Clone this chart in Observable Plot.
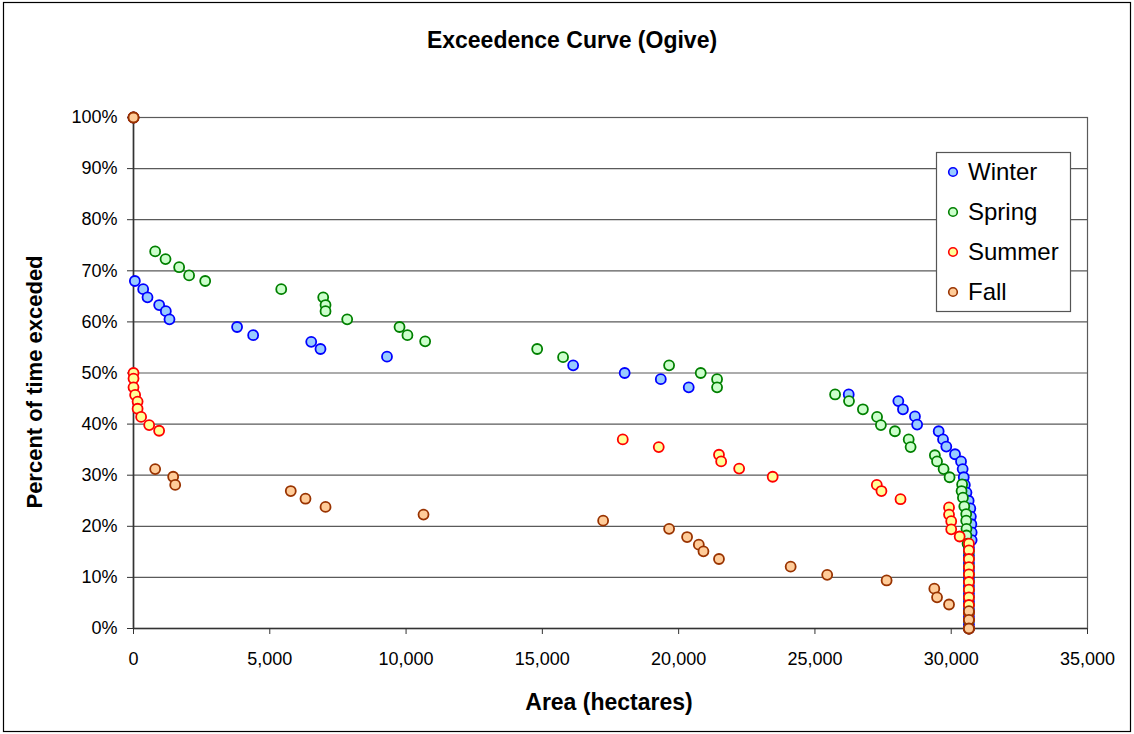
<!DOCTYPE html>
<html><head><meta charset="utf-8">
<script src="https://cdn.jsdelivr.net/npm/d3@7"></script>
<script src="https://cdn.jsdelivr.net/npm/@observablehq/plot@0.6"></script>
<style>html,body{margin:0;padding:0;background:#fff;overflow:hidden}#chart svg{display:block}</style>
</head><body><div id="chart"></div>
<script>
const chartTitle = "Exceedence Curve (Ogive)";
const xTitle = "Area (hectares)";
const yTitle = "Percent of time exceded";
const seriesNames = ["Winter", "Spring", "Summer", "Fall"];
const xTicks = [0, 5000, 10000, 15000, 20000, 25000, 30000, 35000];
const yTicks = [0, 10, 20, 30, 40, 50, 60, 70, 80, 90, 100];

const winterArea = [0, 50, 355, 514, 942, 1186, 1320, 3800, 4390, 6520, 6860, 9300, 16130, 18020, 19345, 20370, 26240, 28060, 28230, 28670, 28750, 29540, 29700, 29820, 30140, 30360, 30420, 30460, 30500, 30560, 30640, 30700, 30720, 30740, 30750, 30750, 30650, 30650, 30650, 30650, 30650, 30650, 30650, 30650, 30650, 30650, 30650, 30650];
const winterPct  = [100, 68.0, 66.4, 64.8, 63.3, 62.1, 60.5, 59.0, 57.4, 56.1, 54.7, 53.2, 51.5, 50.0, 48.8, 47.2, 45.8, 44.5, 42.9, 41.5, 39.9, 38.6, 37.0, 35.6, 34.1, 32.7, 31.2, 29.6, 28.1, 26.6, 25.0, 23.5, 21.9, 20.4, 18.8, 17.3, 15.8, 14.3, 12.8, 11.3, 9.8, 8.3, 6.8, 5.3, 3.8, 2.3, 0.8, 0];

const springArea = [0, 795, 1175, 1675, 2040, 2630, 5420, 6960, 7045, 7045, 7840, 9760, 10050, 10700, 14810, 15760, 19650, 20810, 21410, 21410, 25740, 26250, 26760, 27280, 27420, 27935, 28440, 28510, 29400, 29480, 29720, 29940, 30400, 30380, 30430, 30480, 30550, 30550, 30560, 30560, 30600, 30650, 30650, 30650, 30650, 30650, 30650, 30650, 30650, 30650, 30650, 30650];
const springPct  = [100, 73.8, 72.3, 70.7, 69.1, 68.0, 66.4, 64.8, 63.3, 62.1, 60.5, 59.0, 57.4, 56.2, 54.7, 53.1, 51.5, 50.0, 48.8, 47.2, 45.8, 44.5, 42.9, 41.4, 39.8, 38.6, 37.0, 35.5, 33.9, 32.7, 31.2, 29.6, 28.2, 26.9, 25.6, 23.9, 22.4, 21.1, 19.5, 18.2, 16.6, 15.1, 13.6, 12.1, 10.6, 9.1, 7.6, 6.1, 4.6, 3.1, 1.6, 0];

const summerArea = [0, 0, 0, 0, 60, 150, 150, 280, 575, 940, 17950, 19270, 21480, 21560, 22220, 23450, 27270, 27440, 28140, 29920, 29920, 30000, 30000, 30310, 30650, 30650, 30650, 30650, 30650, 30650, 30650, 30650, 30650, 30650, 30650, 30650];
const summerPct  = [100, 50.0, 48.9, 47.2, 45.7, 44.4, 43.0, 41.4, 39.8, 38.7, 37.0, 35.5, 34.0, 32.7, 31.3, 29.7, 28.1, 26.9, 25.3, 23.7, 22.3, 21.0, 19.4, 18.0, 16.6, 15.3, 13.6, 12.0, 10.6, 9.1, 7.6, 6.1, 4.6, 3.2, 1.7, 0];

const fallArea = [0, 795, 1455, 1530, 5770, 6310, 7045, 10640, 17230, 19650, 20310, 20740, 20910, 21480, 24110, 25450, 27630, 29380, 29480, 29920, 30650, 30650, 30650];
const fallPct  = [100, 31.2, 29.7, 28.1, 26.9, 25.4, 23.8, 22.3, 21.1, 19.5, 17.9, 16.4, 15.1, 13.6, 12.1, 10.5, 9.4, 7.8, 6.1, 4.7, 3.4, 1.7, 0];

const seriesFill = ["#99ccff", "#ccffcc", "#ffff99", "#ffcc99"];
const seriesStroke = ["#0000ff", "#008000", "#ff0000", "#993300"];

const seriesData = [[winterArea, winterPct], [springArea, springPct], [summerArea, summerPct], [fallArea, fallPct]]
  .map(([a, p], i) => a.map((v, j) => ({series: seriesNames[i], area: v, pct: p[j]})));

const FONT = "Liberation Sans, Arial, Helvetica, sans-serif";
const W = 1134, H = 734;
const mL = 133, mR = 47, mT = 117, mB = 106;

const plot = Plot.plot({
  width: W, height: H,
  marginLeft: mL, marginRight: mR, marginTop: mT, marginBottom: mB,
  style: {fontFamily: FONT, background: "#fff", color: "#000"},
  x: {domain: [0, 35000]},
  y: {domain: [0, 100]},
  marks: [
    Plot.gridY(yTicks, {stroke: "#5a5a5a", strokeOpacity: 1, strokeWidth: 1.2}),
    Plot.frame({stroke: "#5a5a5a", strokeWidth: 1.2}),
    Plot.ruleX([0], {stroke: "#333", strokeWidth: 1.6}),
    Plot.ruleY([0], {stroke: "#333", strokeWidth: 1.6}),
    Plot.axisY(yTicks, {tickFormat: d => d + "%", tickSize: 6, tickPadding: 10, fontSize: 18, label: null, stroke: "#333"}),
    Plot.axisX(xTicks, {tickFormat: d3.format(","), tickSize: 6, tickPadding: 18, fontSize: 18, label: null, stroke: "#333"}),
    ...seriesData.map((d, i) => Plot.dot(d, {x: "area", y: "pct", r: 5, fill: seriesFill[i], stroke: seriesStroke[i], strokeWidth: 1.8}))
  ]
});

const svg = d3.select(plot);
// outer border
svg.append("rect").attr("x", 3.5).attr("y", 2.5).attr("width", W - 7).attr("height", H - 5)
  .attr("fill", "none").attr("stroke", "#000").attr("stroke-width", 1.2);
// title
svg.append("text").attr("x", 572).attr("y", 48).attr("text-anchor", "middle")
  .attr("font-family", FONT).attr("font-weight", "bold").attr("font-size", 23).text(chartTitle);
// x title
svg.append("text").attr("x", 609).attr("y", 710).attr("text-anchor", "middle")
  .attr("font-family", FONT).attr("font-weight", "bold").attr("font-size", 23).text(xTitle);
// y title
svg.append("text").attr("transform", "translate(42,382) rotate(-90)").attr("text-anchor", "middle")
  .attr("font-family", FONT).attr("font-weight", "bold").attr("font-size", 22).text(yTitle);
// legend
const lg = svg.append("g");
lg.append("rect").attr("x", 936.5).attr("y", 152.5).attr("width", 134).attr("height", 159)
  .attr("fill", "#fff").attr("stroke", "#555").attr("stroke-width", 1.2);
seriesNames.forEach((name, i) => {
  const cy = 172 + i * 40;
  lg.append("circle").attr("cx", 953).attr("cy", cy).attr("r", 4.3)
    .attr("fill", seriesFill[i]).attr("stroke", seriesStroke[i]).attr("stroke-width", 1.6);
  lg.append("text").attr("x", 968).attr("y", cy + 8).attr("text-anchor", "start").attr("font-family", FONT)
    .attr("font-size", 24).text(name);
});

document.getElementById("chart").appendChild(plot);
</script>
</body></html>
